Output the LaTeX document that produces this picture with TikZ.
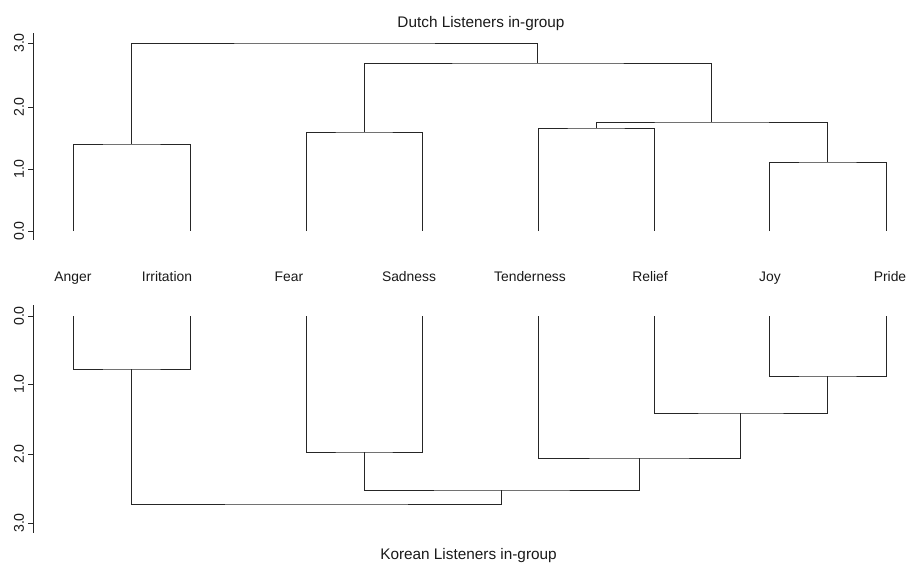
\documentclass[tikz,border=0pt]{standalone}
\usepackage{fontspec}
\setmainfont{Liberation Sans}
\begin{document}
\begin{tikzpicture}[x=0.75pt,y=-0.75pt,
  branch/.style={draw=black!85,line width=0.65pt},
  axisline/.style={draw=black!85,line width=0.65pt},
  leaflabel/.style={anchor=base,inner sep=0pt,font=\fontsize{10.4}{12}\selectfont,text=black!90},
  ticklabel/.style={rotate=90,inner sep=0pt,font=\fontsize{10.6}{12}\selectfont,text=black!90},
  titlelabel/.style={anchor=base,inner sep=0pt,font=\fontsize{11.5}{13}\selectfont,text=black!90}]
\useasboundingbox (0,0) rectangle (909,564);

% titles
\node[titlelabel] (ttitle) at (481,27.5) {Dutch Listeners in-group};
\node[titlelabel] (btitle) at (468.5,559) {Korean Listeners in-group};

% leaf labels
\node[leaflabel] (lA) at (73,281.5) {Anger};
\node[leaflabel] (lI) at (167,281.5) {Irritation};
\node[leaflabel] (lF) at (289,281.5) {Fear};
\node[leaflabel] (lS) at (409,281.5) {Sadness};
\node[leaflabel] (lT) at (530,281.5) {Tenderness};
\node[leaflabel] (lR) at (650,281.5) {Relief};
\node[leaflabel] (lJ) at (770,281.5) {Joy};
\node[leaflabel] (lP) at (890,281.5) {Pride};

% ---------- top dendrogram ----------
\coordinate (tA) at (73,231);
\coordinate (tI) at (190,231);
\coordinate (tF) at (306,231);
\coordinate (tS) at (422,231);
\coordinate (tT) at (538,231);
\coordinate (tR) at (654,231);
\coordinate (tJ) at (769,231);
\coordinate (tP) at (886,231);
\coordinate (tAI) at (131.5,144);
\coordinate (tFS) at (364,132);
\coordinate (tTR) at (596,128);
\coordinate (tJP) at (827.5,162);
\coordinate (tTRJP) at (711.75,122);
\coordinate (tFSX) at (537.9,63);
\coordinate (troot) at (334.7,43);

\draw[branch] (tA) |- (tAI) -| (tI);
\draw[branch] (tF) |- (tFS) -| (tS);
\draw[branch] (tT) |- (tTR) -| (tR);
\draw[branch] (tJ) |- (tJP) -| (tP);
\draw[branch] (tTR) |- (tTRJP) -| (tJP);
\draw[branch] (tFS) |- (tFSX) -| (tTRJP);
\draw[branch] (tAI) |- (troot) -| (tFSX);

% top axis
\coordinate (tax1) at (33,33);
\coordinate (tax2) at (33,240);
\draw[axisline] (tax1) -- (tax2);
\foreach \yy/\lab in {43/3.0,107/2.0,169/1.0,231/0.0}{
  \draw[axisline] (28,\yy) -- (33,\yy);
  \node[ticklabel] at (19,\yy) {\lab};
}

% ---------- bottom dendrogram ----------
\coordinate (bA) at (73,316);
\coordinate (bI) at (190,316);
\coordinate (bF) at (306,316);
\coordinate (bS) at (422,316);
\coordinate (bT) at (538,316);
\coordinate (bR) at (654,316);
\coordinate (bJ) at (769,316);
\coordinate (bP) at (886,316);
\coordinate (bAI) at (131.5,369);
\coordinate (bFS) at (364,452);
\coordinate (bJP) at (827.5,376);
\coordinate (bRJP) at (740.75,413);
\coordinate (bTRJP) at (639.4,458);
\coordinate (bFSX) at (501.7,490);
\coordinate (broot) at (316.6,504);

\draw[branch] (bA) |- (bAI) -| (bI);
\draw[branch] (bF) |- (bFS) -| (bS);
\draw[branch] (bJ) |- (bJP) -| (bP);
\draw[branch] (bR) |- (bRJP) -| (bJP);
\draw[branch] (bT) |- (bTRJP) -| (bRJP);
\draw[branch] (bFS) |- (bFSX) -| (bTRJP);
\draw[branch] (bAI) |- (broot) -| (bFSX);

% bottom axis
\coordinate (bax1) at (33,305);
\coordinate (bax2) at (33,533);
\draw[axisline] (bax1) -- (bax2);
\foreach \yy/\lab in {316/0.0,384/1.0,454/2.0,523/3.0}{
  \draw[axisline] (28,\yy) -- (33,\yy);
  \node[ticklabel] at (19,\yy) {\lab};
}
\end{tikzpicture}
\end{document}
